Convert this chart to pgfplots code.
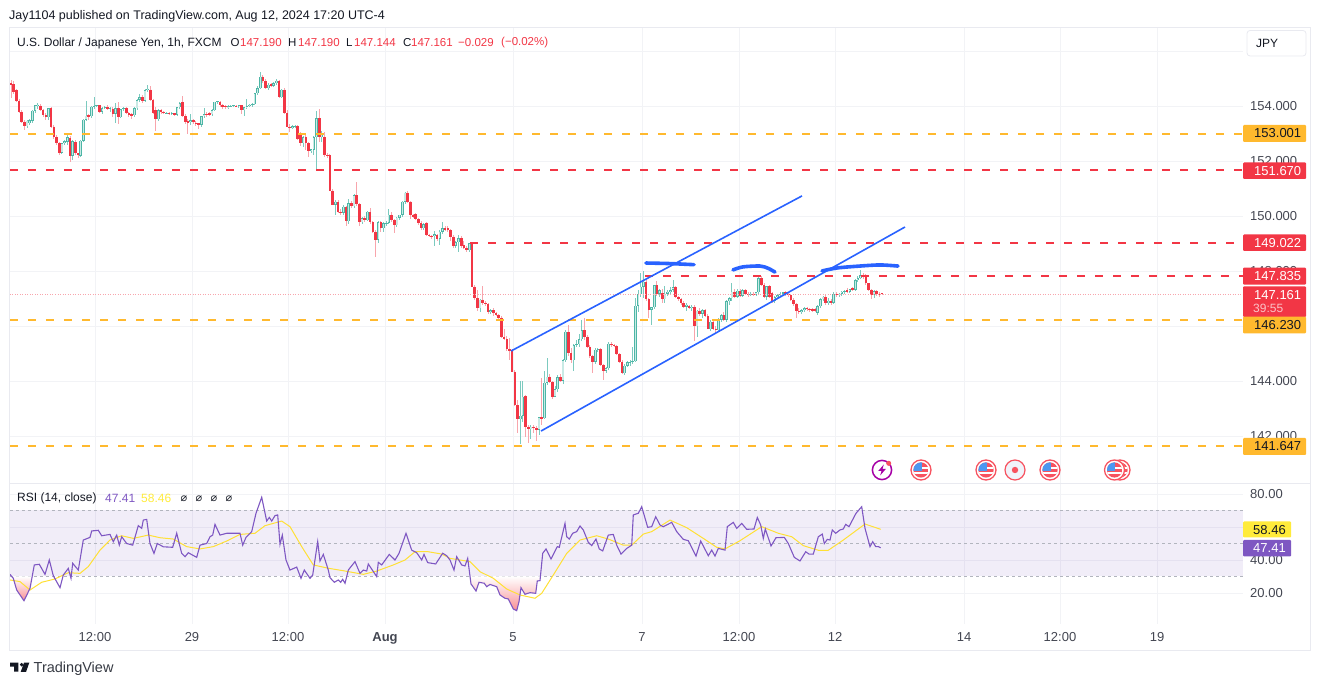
\documentclass[border=0pt]{standalone}
\usepackage{fontspec}
\setmainfont{Liberation Sans}
\newfontfamily\dejavu{DejaVu Sans}
\usepackage{pgfplots}
\usepackage{pgfplotstable}
\pgfplotsset{compat=1.18}
\definecolor{upc}{HTML}{4DB6A6}
\definecolor{upin}{HTML}{C8EAE5}
\definecolor{upw}{HTML}{7CCABF}
\definecolor{dnc}{HTML}{F23645}
\definecolor{dnw}{HTML}{F8A5AC}
\definecolor{org}{HTML}{FFB92E}
\definecolor{blu}{HTML}{2962FF}
\definecolor{gridc}{HTML}{F2F3F6}
\definecolor{framec}{HTML}{E9EAF0}
\definecolor{txt}{HTML}{131722}
\definecolor{scalet}{HTML}{434651}
\definecolor{purp}{HTML}{7E57C2}
\definecolor{yel}{HTML}{FFEB3B}
\definecolor{dashc}{HTML}{B2B5BE}
\definecolor{pinkb}{HTML}{F88F94}
\definecolor{F7}{HTML}{F7525F}
\definecolor{BL}{HTML}{4C97F0}
\definecolor{F2F}{HTML}{F0F3FA}
\pgfplotstableread{
o h l c
154.85 154.95 154.30 154.77
154.80 154.90 154.42 154.52
154.58 154.62 154.15 154.20
154.19 154.25 153.75 153.80
153.80 153.85 153.40 153.43
153.43 153.50 153.13 153.27
153.27 153.50 153.20 153.47
153.37 153.52 153.30 153.49
153.47 153.85 153.40 153.83
153.83 154.05 153.75 154.03
154.00 154.10 153.90 154.05
154.01 154.06 153.80 153.85
153.85 153.90 153.60 153.67
153.67 153.75 153.48 153.59
153.59 153.93 153.50 153.91
153.91 153.95 153.22 153.25
153.25 153.30 152.80 152.86
152.86 152.95 152.58 152.64
152.64 152.70 152.22 152.30
152.30 152.66 152.25 152.64
152.64 152.78 152.58 152.72
152.70 152.95 152.60 152.86
152.83 152.90 151.95 152.18
152.18 152.78 152.05 152.72
152.70 152.76 152.20 152.28
152.28 152.30 152.10 152.20
152.20 152.75 152.15 152.73
152.73 153.52 152.70 153.50
153.50 154.20 153.45 153.65
153.67 153.72 153.50 153.59
153.63 153.99 153.55 153.97
153.97 154.32 153.90 154.01
154.00 154.05 153.95 154.03
154.03 154.05 153.75 153.80
153.80 153.95 153.72 153.92
153.92 154.00 153.88 153.95
153.96 154.02 153.85 153.90
153.88 153.95 153.80 153.92
153.89 153.95 153.60 153.71
153.71 154.12 153.40 153.91
153.91 154.13 153.35 153.59
153.59 153.90 153.55 153.88
153.88 153.96 153.80 153.91
153.91 153.95 153.70 153.73
153.75 153.80 153.60 153.67
153.70 153.75 153.54 153.62
153.67 153.95 153.60 153.91
153.91 154.25 153.85 154.22
154.22 154.45 154.15 154.32
154.32 154.40 154.10 154.20
154.20 154.62 154.15 154.58
154.58 154.75 154.50 154.63
154.60 154.72 154.20 154.22
154.22 154.25 153.70 153.75
153.85 153.95 153.10 153.52
153.52 153.90 153.45 153.85
153.85 153.90 153.72 153.77
153.80 153.82 153.70 153.73
153.73 153.78 153.70 153.75
153.74 153.78 153.68 153.72
153.73 153.77 153.68 153.75
153.73 153.75 153.65 153.68
153.68 153.98 153.62 153.95
153.95 154.15 153.90 154.11
154.15 154.35 153.62 153.64
153.64 153.70 153.35 153.43
153.47 153.52 153.00 153.37
153.40 153.70 153.30 153.49
153.49 153.52 153.35 153.40
153.40 153.45 153.28 153.35
153.37 153.40 153.16 153.32
153.32 153.65 153.25 153.63
153.63 153.92 153.58 153.71
153.71 153.78 153.60 153.67
153.73 153.78 153.62 153.67
153.70 153.88 153.65 153.85
153.85 154.15 153.80 154.15
154.15 154.20 154.08 154.18
154.15 154.18 153.98 154.03
154.03 154.06 153.90 153.98
154.00 154.03 153.88 153.95
153.95 154.03 153.90 154.00
153.99 154.03 153.95 154.01
154.00 154.03 153.95 154.02
154.01 154.04 153.96 154.00
154.00 154.03 153.92 154.02
154.02 154.04 153.70 153.85
153.85 153.98 153.63 153.95
153.95 154.25 153.90 154.00
154.00 154.08 153.95 154.05
154.03 154.10 153.98 154.07
154.07 154.48 154.02 154.46
154.46 154.72 154.40 154.64
154.64 155.22 154.60 155.07
155.07 155.12 154.85 154.92
154.92 155.00 154.62 154.65
154.65 154.82 154.60 154.77
154.80 154.85 154.70 154.74
154.74 154.86 154.70 154.82
154.82 155.00 154.78 154.92
154.92 154.96 154.30 154.32
154.32 154.62 154.28 154.60
154.60 154.65 153.70 153.73
153.73 153.85 153.25 153.25
153.25 153.35 153.05 153.21
153.21 153.30 153.15 153.27
153.27 153.32 153.20 153.29
153.28 153.32 152.76 152.80
153.00 153.05 152.55 152.64
152.64 152.90 152.50 152.86
152.88 152.95 152.40 152.64
152.64 152.70 152.15 152.37
152.37 152.45 152.30 152.42
152.40 152.90 152.22 152.86
152.86 153.83 151.67 153.55
153.55 153.88 152.70 152.86
152.86 153.10 152.70 152.95
152.86 153.05 152.15 152.22
152.22 152.30 152.10 152.18
152.22 152.26 150.92 150.92
150.92 151.00 150.40 150.40
150.40 150.60 150.02 150.52
150.52 150.58 150.12 150.16
150.16 150.25 150.05 150.12
150.12 150.40 150.05 150.34
150.34 150.38 149.64 149.80
149.80 150.60 149.72 150.46
150.46 150.55 150.30 150.36
150.36 150.80 150.28 150.76
150.76 151.25 150.35 150.43
150.43 150.48 149.65 149.77
149.77 149.95 149.70 149.92
149.92 150.00 149.78 149.85
149.85 150.20 149.80 150.15
150.15 150.30 149.70 149.77
149.77 149.82 149.38 149.43
149.43 149.50 148.52 149.13
149.13 149.80 149.00 149.77
149.77 149.82 149.40 149.55
149.55 149.80 149.40 149.73
149.73 149.82 149.62 149.76
149.76 150.25 149.70 150.04
150.04 150.15 149.78 149.85
149.85 149.90 149.38 149.66
149.66 149.98 149.60 149.93
149.93 150.05 149.85 150.04
150.04 150.55 149.98 150.52
150.52 150.88 150.45 150.85
150.85 150.90 150.50 150.52
150.52 150.55 149.90 150.04
150.04 150.08 149.92 149.98
150.07 150.12 149.85 149.88
149.88 149.92 149.68 149.73
149.75 149.80 149.50 149.55
149.55 149.75 149.50 149.70
149.76 149.80 149.28 149.31
149.31 149.36 149.25 149.28
149.28 149.32 149.18 149.27
149.27 149.45 148.90 149.33
149.30 149.35 149.10 149.18
149.18 149.50 148.95 149.42
149.42 149.78 149.35 149.55
149.55 149.62 149.45 149.50
149.55 149.65 149.40 149.48
149.48 149.52 149.10 149.25
149.25 149.30 148.85 148.92
148.92 149.10 148.85 149.05
149.05 149.30 148.70 149.20
149.20 149.28 148.85 148.90
148.95 149.10 148.80 148.83
148.85 148.90 148.70 148.76
148.76 149.03 148.70 149.00
149.00 149.05 147.43 147.43
147.43 147.50 146.95 147.00
147.00 147.30 146.55 146.64
146.64 146.98 146.50 146.96
146.96 147.45 146.75 146.85
146.85 146.92 146.72 146.80
146.80 146.85 146.45 146.52
146.52 146.62 146.45 146.58
146.58 146.65 146.38 146.46
146.46 146.50 146.35 146.40
146.40 146.45 146.28 146.30
146.30 146.35 145.58 145.59
145.59 145.90 145.50 145.52
145.52 145.65 145.10 145.15
145.15 145.55 144.75 145.10
145.10 145.15 144.35 144.34
144.34 144.40 143.10 143.13
143.13 143.30 142.12 142.60
142.60 144.00 141.70 142.73
142.73 144.00 142.50 143.43
143.45 143.50 141.95 142.34
142.34 142.40 141.75 142.25
142.25 142.40 141.90 142.34
142.34 142.40 142.10 142.28
142.28 142.35 141.80 142.22
142.22 142.70 142.05 142.68
142.68 144.12 142.40 142.62
142.65 144.35 142.60 143.94
143.94 144.85 143.85 144.16
144.16 144.25 143.92 143.98
143.98 144.00 143.35 143.43
143.43 143.80 143.40 143.70
143.70 144.20 143.60 144.13
144.13 144.25 143.95 144.01
144.01 144.80 143.90 144.76
144.76 145.85 144.70 145.79
145.79 146.05 144.90 145.00
145.00 145.20 144.65 144.76
144.76 145.35 144.35 145.31
145.31 145.50 145.25 145.33
145.33 145.70 145.25 145.51
145.51 146.20 145.45 145.85
145.85 146.30 145.50 145.61
145.61 145.68 145.20 145.25
145.25 145.30 144.85 144.91
144.91 144.95 144.30 144.70
144.70 145.20 144.60 145.13
145.13 145.20 145.05 145.15
145.15 145.20 144.55 144.58
144.58 144.62 144.05 144.37
144.37 144.52 144.30 144.47
144.47 145.40 144.40 145.35
145.35 145.40 145.25 145.31
145.31 145.35 145.22 145.27
145.27 145.30 144.95 144.98
144.98 145.02 144.65 144.70
144.70 144.75 144.25 144.28
144.28 144.62 144.22 144.55
144.55 144.72 144.50 144.68
144.68 144.75 144.55 144.70
144.70 145.25 144.62 144.72
144.72 147.00 144.68 146.73
146.73 147.30 146.50 147.16
147.16 147.93 147.05 147.43
147.43 148.00 147.00 147.61
147.61 147.70 146.90 146.97
146.97 147.02 146.30 146.58
146.58 146.70 146.05 146.68
146.68 147.50 146.60 147.49
147.49 147.62 147.10 147.17
147.17 147.35 147.05 147.30
147.19 147.35 146.85 146.97
146.97 147.45 146.85 147.17
147.17 147.30 147.10 147.25
147.25 147.40 147.18 147.31
147.31 147.68 147.25 147.40
147.40 147.45 147.00 147.04
147.04 147.10 146.92 146.97
146.97 147.02 146.78 146.82
146.82 146.90 146.65 146.70
146.70 146.82 146.55 146.78
146.72 146.78 146.60 146.65
146.65 146.75 146.55 146.70
146.70 146.75 145.45 145.99
145.99 146.58 145.60 146.56
146.56 146.65 146.35 146.45
146.45 146.62 146.30 146.58
146.58 146.62 146.35 146.37
146.37 146.42 145.88 145.88
145.88 146.20 145.82 146.15
146.15 146.25 145.85 145.90
145.90 146.00 145.75 145.85
145.85 146.28 145.78 146.22
146.22 146.45 146.15 146.40
146.40 146.50 146.18 146.22
146.22 146.95 146.15 146.90
146.90 147.05 146.75 147.00
147.00 147.58 146.90 147.25
147.25 147.35 147.02 147.07
147.07 147.35 147.00 147.28
147.28 147.33 147.05 147.10
147.10 147.35 147.05 147.30
147.30 147.36 147.12 147.17
147.17 147.22 147.05 147.12
147.12 147.22 147.08 147.18
147.18 147.22 147.10 147.14
147.14 147.25 147.10 147.22
147.22 147.80 147.16 147.73
147.73 147.80 147.45 147.49
147.49 147.55 147.05 147.07
147.07 147.47 146.95 147.45
147.45 147.50 147.05 147.07
147.20 147.25 146.85 146.90
146.90 147.10 146.85 147.05
147.05 147.15 147.00 147.12
147.12 147.22 147.05 147.18
147.18 147.25 147.12 147.22
147.22 147.28 147.10 147.18
147.18 147.22 147.05 147.12
147.12 147.15 146.92 146.95
146.95 147.00 146.72 146.80
146.80 146.85 146.28 146.55
146.55 146.65 146.45 146.50
146.50 146.62 146.45 146.58
146.58 146.68 146.52 146.65
146.65 146.68 146.55 146.60
146.62 146.66 146.52 146.58
146.60 146.66 146.52 146.56
146.60 146.64 146.50 146.55
146.48 146.75 146.40 146.72
146.72 147.00 146.65 146.97
146.97 147.10 146.90 147.06
147.06 147.12 146.75 146.82
146.82 147.00 146.75 146.92
146.92 146.98 146.78 146.85
146.85 147.22 146.80 147.17
147.17 147.24 147.05 147.12
147.12 147.20 147.05 147.17
147.17 147.28 147.10 147.24
147.24 147.30 147.15 147.27
147.30 147.38 147.22 147.25
147.25 147.36 147.20 147.33
147.37 147.42 147.28 147.32
147.32 147.72 147.28 147.67
147.67 147.80 147.60 147.74
147.74 148.05 147.70 147.85
147.85 147.92 147.72 147.77
147.85 147.90 147.50 147.55
147.55 147.58 147.30 147.31
147.31 147.35 146.98 147.13
147.13 147.30 147.00 147.27
147.27 147.30 147.10 147.16
147.18 147.24 147.05 147.16
147.19 147.19 147.14 147.16
}\candles
\pgfplotstableread{
x y
10 31.3
13.3 28.9
16.7 21.8
24 15.3
30 22.8
34.3 37
39.3 37.4
45 31.3
49.3 40
53.3 30.5
60 23.2
63.3 30.9
68.3 34.9
71 28.9
72.7 38
78.3 33.9
83.3 52.1
90 53.7
91.7 57.6
98.3 58
101.7 54.7
110 55.5
113.3 51.1
116.7 55.1
119.3 49.1
121.7 54.1
126.7 50
132.7 49
138.3 60.8
141.7 59.2
143.3 64.2
146.7 64.6
150 50
154 44
157.3 50
163.3 48
172.7 47.7
176.7 56.2
181.7 44
185 42
188.3 44.4
196.7 41.6
200 49
206.7 50
210 54.1
212.7 55.1
215 61.6
220 55.1
226.7 56.2
240 56.2
242.7 49
246 53.7
251.7 57.2
256 68.3
261.7 78
266.7 63.6
269.3 65.8
271.7 63.6
275 66.9
277.7 67.3
280 49.5
282.3 55.1
286 40
290 33.9
296.7 35.7
301 28.9
304.3 33.9
310 28.9
312.7 30.9
317.7 51.1
320 39.4
323.3 43.4
328.3 33.9
330 29.3
334.3 26.5
338.3 27.9
340.7 26.5
342.7 28.3
345 25.9
348.3 33.9
355 39
360 31.9
363.3 33.9
366.7 33.3
368.3 37.6
376.7 29.9
378.3 38.6
381.7 37
389.3 43.4
395 40
399 44
406 56.2
411.7 46
416.7 44.4
421.7 40
424 43.4
427.7 38.4
435.7 37.6
442.7 44.1
446.7 42.6
450 40
454 33.9
456.7 42
461.7 37
465 36.4
467.7 41
471 25.5
476 21.2
479 26.5
484.3 25.9
486.7 23.8
490 25.2
496.7 23.8
500 18.8
505 16.8
508.3 16.4
513.3 10.3
516.7 9.3
519 14.7
521 23.2
525 19.2
530 20.2
535.7 19.8
537.3 27.3
540 27.5
542.7 44
546 46.7
551 40.6
557.3 48.1
559.3 47.7
565 62.2
566.7 54.1
569.3 52.7
572.7 56.2
576.7 57.2
580 60.6
583.3 58.2
588.3 50.7
591.7 48.7
596 52.7
599.3 46.7
602.7 45.5
608.3 55.1
613.3 55.5
616.7 49
621 43.6
626.7 47
631.7 49
633.3 67.3
638.3 68.3
641.7 72.3
647.7 59.8
651.7 60.2
655.7 66.2
660 61.2
663.3 60.2
671.7 62.8
676.7 57.2
683.3 52.5
688.3 51.7
696 42.4
700.7 51.5
708.3 42.6
711.7 46
715 42.4
718.3 47
725 46
727.3 60.2
733.3 62.8
736.7 59.2
741.7 62.2
746.7 58.6
754 58.8
757.3 65.8
760.7 61.2
763.3 53.1
765.3 58.8
771 48.5
776 53.5
784.3 53.7
788.3 50
794.3 41.6
800 39.4
805.7 45
809 43.6
813.3 43.6
818.3 54.1
822.3 55.7
824.3 50
827.3 52.5
830 52.1
832.3 58.2
835.7 56.2
840 58.2
843.3 58.8
845.7 61.6
849 60.2
856 68.3
861.7 72.3
865 59.2
870 48.1
872.7 51.1
875.7 48.1
878.3 48.1
880.7 47.4
}\rsi
\pgfplotstableread{
x y
10 27.9
20 26.9
30 21.8
41.7 26.5
55 28.5
68.3 32.3
80 31.9
88.3 36
100 46
110 52.1
121.7 54.7
133.3 53.1
148.3 55.1
160 53.5
173.3 52.7
186.7 48.1
200 46.7
213.3 48.1
226.7 51.5
240 55.5
255 56.2
265 60.8
281.7 63.6
290 60.2
301.7 48.1
313.3 37
328.3 35
343.3 33.5
363.3 31.3
376.7 33.3
393.3 37
405 40
415 45
428.3 45
441.7 43.6
450 41
470 39
480 32.9
493.3 28.9
506.7 22.4
520 18.8
535 16.8
541.7 19.8
553.3 30.9
566.7 44
580 52.1
596.7 54.7
608.3 52.7
623.3 49
631.7 49
643.3 55.7
651.7 57.2
670 64.2
686.7 59.6
703.3 53.1
716.7 47.7
725 46.7
740 51.7
761.7 60.2
778.3 56.2
791.7 54.1
803.3 48.7
818.3 45.9
828.3 45.9
843.3 52.1
865 61.8
880.7 58.6
}\rsima
\newcommand\fs[1]{\fontsize{#1}{#1}\selectfont}
\newcommand\plabel[5]{% top bottom fill textcolor text
  \fill[#3,rounded corners=1pt] (1243,#1) rectangle (1306,#2);
  \node[anchor=west,inner sep=0pt,text=#4,font=\fs{13}] at (1254,{(#1+#2)/2}) {#5};}
\newcommand\flagicon[1]{\begin{scope}[shift={(#1,470)}]
  \fill[white] (0,0) circle (10.5pt);
  \draw[F7,line width=1.3pt] (0,0) circle (10pt);
  \begin{scope}
    \clip (0,0) circle (7.6pt);
    \fill[F7] (-8,-8) rectangle (8,8);
    \fill[white] (-8,-2.5) rectangle (8,-0.5);
    \fill[white] (-8,2.2) rectangle (8,4.2);
    \fill[BL] (-8,-8) rectangle (0.5,0.6);
  \end{scope}\end{scope}}
\begin{document}
\begin{tikzpicture}[x=1pt,y=1pt]
\useasboundingbox (0,0) rectangle (1320,685);
\pgfplotsset{
  common/.style={scale only axis,anchor=south west,width=1233pt,xmin=10,xmax=1243,clip=true,
    axis line style={draw=none},major tick length=0pt,
    xmajorgrids,ymajorgrids,grid style={gridc,line width=0.8pt},
    xtick={95,192,288,385,513,642,739,835,964,1060,1157},
    /pgf/number format/assume math mode=true,
    /pgf/number format/fixed,/pgf/number format/fixed zerofill,/pgf/number format/1000 sep={},
    scaled y ticks=false,yticklabel pos=right,
    yticklabel style={anchor=west,font=\fs{13},text=scalet,xshift=7pt,inner sep=0pt},
  },
}
% ---- price pane
\begin{axis}[common,at={(10pt,202pt)},height=456pt,ymin=140.291,ymax=156.873,
  ytick={142,144,146,148,150,152,154,156},xticklabels={},
  /pgf/number format/precision=3]
\addplot[draw=none,mark=none,forget plot,error bars/.cd,y dir=both,y explicit,error mark=none,
  error bar style={line width=0.9pt,upw}]
  table[x expr={11+2.68*\coordindex},y expr={\thisrow{c}>=\thisrow{o}?\thisrow{c}:nan},
  y error plus expr={\thisrow{h}-\thisrow{c}},y error minus expr={\thisrow{c}-\thisrow{l}}]{\candles};
\addplot[draw=none,mark=none,forget plot,error bars/.cd,y dir=both,y explicit,error mark=none,
  error bar style={line width=0.9pt,dnw}]
  table[x expr={11+2.68*\coordindex},y expr={\thisrow{c}<\thisrow{o}?\thisrow{c}:nan},
  y error plus expr={\thisrow{h}-\thisrow{c}},y error minus expr={\thisrow{c}-\thisrow{l}}]{\candles};
\addplot[draw=none,mark=none,forget plot,error bars/.cd,y dir=minus,y explicit,error mark=none,
  error bar style={line width=2.6pt,upc}]
  table[x expr={11+2.68*\coordindex},y expr={\thisrow{c}>=\thisrow{o}?\thisrow{c}:nan},
  y error minus expr={max(\thisrow{c}-\thisrow{o},0.03)}]{\candles};
\addplot[draw=none,mark=none,forget plot,error bars/.cd,y dir=minus,y explicit,error mark=none,
  error bar style={line width=1.2pt,upin}]
  table[x expr={11+2.68*\coordindex},y expr={\thisrow{c}>=\thisrow{o}?\thisrow{c}-0.02:nan},
  y error minus expr={max(\thisrow{c}-\thisrow{o}-0.04,0)}]{\candles};
\addplot[draw=none,mark=none,forget plot,error bars/.cd,y dir=minus,y explicit,error mark=none,
  error bar style={line width=2.6pt,dnc}]
  table[x expr={11+2.68*\coordindex},y expr={\thisrow{c}<\thisrow{o}?\thisrow{o}:nan},
  y error minus expr={max(\thisrow{o}-\thisrow{c},0.03)}]{\candles};
% levels
\addplot[dnw,line width=0.7pt,dash pattern=on 1pt off 1.5pt] coordinates {(10,147.161)(1243,147.161)};
\addplot[org,line width=1.7pt,dash pattern=on 8pt off 10pt,yshift=-0.4pt] coordinates {(10,153.001)(1243,153.001)};
\addplot[org,line width=1.7pt,dash pattern=on 8pt off 10pt] coordinates {(10,146.230)(1243,146.230)};
\addplot[org,line width=1.7pt,dash pattern=on 8pt off 10pt] coordinates {(10,141.647)(1243,141.647)};
\addplot[dnc,line width=1.7pt,dash pattern=on 8pt off 10pt] coordinates {(10,151.670)(1243,151.670)};
\addplot[dnc,line width=1.7pt,dash pattern=on 8pt off 10pt] coordinates {(470,149.022)(1243,149.022)};
\addplot[dnc,line width=1.7pt,dash pattern=on 8pt off 10pt,yshift=-0.4pt] coordinates {(645,147.835)(1243,147.835)};
% channel
\addplot[blu,line width=1.6pt] coordinates {(511,145.09)(802,150.73)};
\addplot[blu,line width=1.6pt] coordinates {(541,142.18)(905,149.60)};
% brush
\addplot[blu,line width=3.6pt,line cap=round,smooth] coordinates {(646,148.29)(670,148.27)(694,148.23)};
\addplot[blu,line width=3.6pt,line cap=round,smooth] coordinates {(733,148.04)(743,148.15)(760,148.18)(768,148.10)(775,147.96)};
\addplot[blu,line width=3.6pt,line cap=round,smooth] coordinates {(822,148.00)(837,148.11)(860,148.18)(880,148.22)(898,148.18)};
\end{axis}
% ---- RSI pane
\begin{axis}[common,at={(10pt,61pt)},height=141pt,ymin=1.21,ymax=86.67,
  ytick={20,40,60,80},
  xticklabels={12:00,29,12:00,\textbf{Aug},5,7,12:00,12,14,12:00,19},
  xticklabel style={font=\fs{13},text=scalet,yshift=-5pt},
  /pgf/number format/precision=2]
\addplot[draw=none,fill=purp,fill opacity=0.11] coordinates {(10,30)(1243,30)(1243,70)(10,70)} --cycle;
\addplot[dashc,line width=0.8pt,dash pattern=on 3pt off 3pt] coordinates {(10,70)(1243,70)};
\addplot[dashc,line width=0.8pt,dash pattern=on 3pt off 3pt] coordinates {(10,50)(1243,50)};
\addplot[dashc,line width=0.8pt,dash pattern=on 3pt off 3pt] coordinates {(10,30)(1243,30)};
\addplot[draw=none,top color=white,bottom color=pinkb] coordinates {(12,30)(13.3,28.9)(16.7,21.8)(24,15.3)(30,22.8)(33,30)} --cycle;
\addplot[draw=none,top color=white,bottom color=pinkb] coordinates {(469,30)(471,25.5)(476,21.2)(479,26.5)(484.3,25.9)(486.7,23.8)(490,25.2)(496.7,23.8)(500,18.8)(505,16.8)(508.3,16.4)(513.3,10.3)(516.7,9.3)(519,14.7)(521,23.2)(525,19.2)(530,20.2)(535.7,19.8)(537.3,27.3)(540,27.5)(541,30)} --cycle;
\addplot[yel!90!orange,line width=1pt] table[x=x,y=y]{\rsima};
\addplot[purp,line width=1.1pt] table[x=x,y=y]{\rsi};
\end{axis}
% ---- overlays, in image pixel coordinates
\begin{scope}[x=1pt,y=-1pt,shift={(0pt,685pt)}]
\draw[framec,line width=0.8pt] (9.5,27) rectangle (1310,650);
\draw[framec,line width=0.8pt] (9.5,483) -- (1310,483);
\plabel{125}{142}{org}{txt}{153.001}
\plabel{162.5}{179}{dnc}{white}{151.670}
\plabel{234.5}{251}{dnc}{white}{149.022}
\plabel{267.7}{284.7}{dnc}{white}{147.835}
\fill[dnc,rounded corners=1pt] (1243,286.3) rectangle (1306,317);
\node[anchor=west,inner sep=0pt,text=white,font=\fs{13}] at (1254,295) {147.161};
\node[anchor=west,inner sep=0pt,text=white!70!dnc,font=\fs{12}] at (1253,308.5) {39:55};
\plabel{316.7}{333.3}{org}{txt}{146.230}
\plabel{438}{455}{org}{txt}{141.647}
\fill[yel,rounded corners=1pt] (1243,521.5) rectangle (1291,537.5);
\node[anchor=west,inner sep=0pt,text=txt,font=\fs{13}] at (1253,530) {58.46};
\fill[purp,rounded corners=1pt] (1243,540) rectangle (1291,556.5);
\node[anchor=west,inner sep=0pt,text=white,font=\fs{13}] at (1253,548.5) {47.41};
\draw[framec,fill=white,rounded corners=3pt,line width=0.8pt] (1247,30.5) rectangle (1306,56);
\node[anchor=west,inner sep=0pt,text=txt,font=\fs{12}] at (1256,43) {JPY};
% header
\node[anchor=west,inner sep=0pt,text=txt,font=\fs{12.5}] at (9,16) {Jay1104 published on TradingView.com, Aug 12, 2024 17:20 UTC-4};
\node[anchor=west,inner sep=0pt,text=txt,font=\fs{12}] at (17,43) {U.S. Dollar / Japanese Yen, 1h, FXCM};
\node[anchor=west,inner sep=0pt,text=txt,font=\fs{11.5}] at (230.5,43) {O};
\node[anchor=west,inner sep=0pt,text=dnc,font=\fs{11.5}] at (240,43) {147.190};
\node[anchor=west,inner sep=0pt,text=txt,font=\fs{11.5}] at (288,43) {H};
\node[anchor=west,inner sep=0pt,text=dnc,font=\fs{11.5}] at (298,43) {147.190};
\node[anchor=west,inner sep=0pt,text=txt,font=\fs{11.5}] at (346,43) {L};
\node[anchor=west,inner sep=0pt,text=dnc,font=\fs{11.5}] at (354,43) {147.144};
\node[anchor=west,inner sep=0pt,text=txt,font=\fs{11.5}] at (403,43) {C};
\node[anchor=west,inner sep=0pt,text=dnc,font=\fs{11.5}] at (411,43) {147.161};
\node[anchor=west,inner sep=0pt,text=dnc,font=\fs{11.5}] at (458,43) {−0.029};
\node[anchor=west,inner sep=0pt,text=dnc,font=\fs{11.5}] at (501,43) {(−0.02\%)};
% RSI legend
\node[anchor=west,inner sep=0pt,text=txt,font=\fs{12}] at (17,498.5) {RSI (14, close)};
\node[anchor=west,inner sep=0pt,text=purp,font=\fs{12}] at (105,498.5) {47.41};
\node[anchor=west,inner sep=0pt,text=yel,font=\fs{12}] at (141,498.5) {58.46};
\foreach \xx in {184,199,214,229} \node[inner sep=0pt,text=txt,font=\dejavu\fs{11}] at (\xx,499) {⌀};
% logo
\fill[txt] (10,662.7) -- (18.3,662.7) -- (18.3,671.7) -- (14,671.7) -- (14,666.7) -- (10,666.7) -- cycle;
\fill[txt] (21.7,664.7) circle (1.9pt);
\fill[txt] (24,662.7) -- (29.3,662.7) -- (26,672) -- (20.7,672) -- cycle;
\node[anchor=west,inner sep=0pt,text=txt!85,font=\fs{14.5}] at (33.5,668.5) {TradingView};
% events
\begin{scope}[shift={(882,470)}]
  \fill[white] (0,0) circle (10.5pt);
  \draw[violet!70!magenta,line width=1.5pt] (0,0) circle (9.6pt);
  \fill[violet!70!magenta] (1.8,-5.5) -- (-3.8,1) -- (-0.5,1) -- (-1.8,5.5) -- (3.8,-1) -- (0.5,-1) -- cycle;
  \fill[F7] (6.7,-6.7) circle (2.5pt);
\end{scope}
\flagicon{921}
\flagicon{986}
\begin{scope}[shift={(1015,470)}]
  \fill[F2F]  (0,0) circle (10pt);
  \draw[F7,line width=1.2pt] (0,0) circle (10pt);
  \fill[F7] (0,0) circle (3.2pt);
\end{scope}
\flagicon{1050}
\flagicon{1120}
\flagicon{1114.5}
\end{scope}
\end{tikzpicture}
\end{document}
